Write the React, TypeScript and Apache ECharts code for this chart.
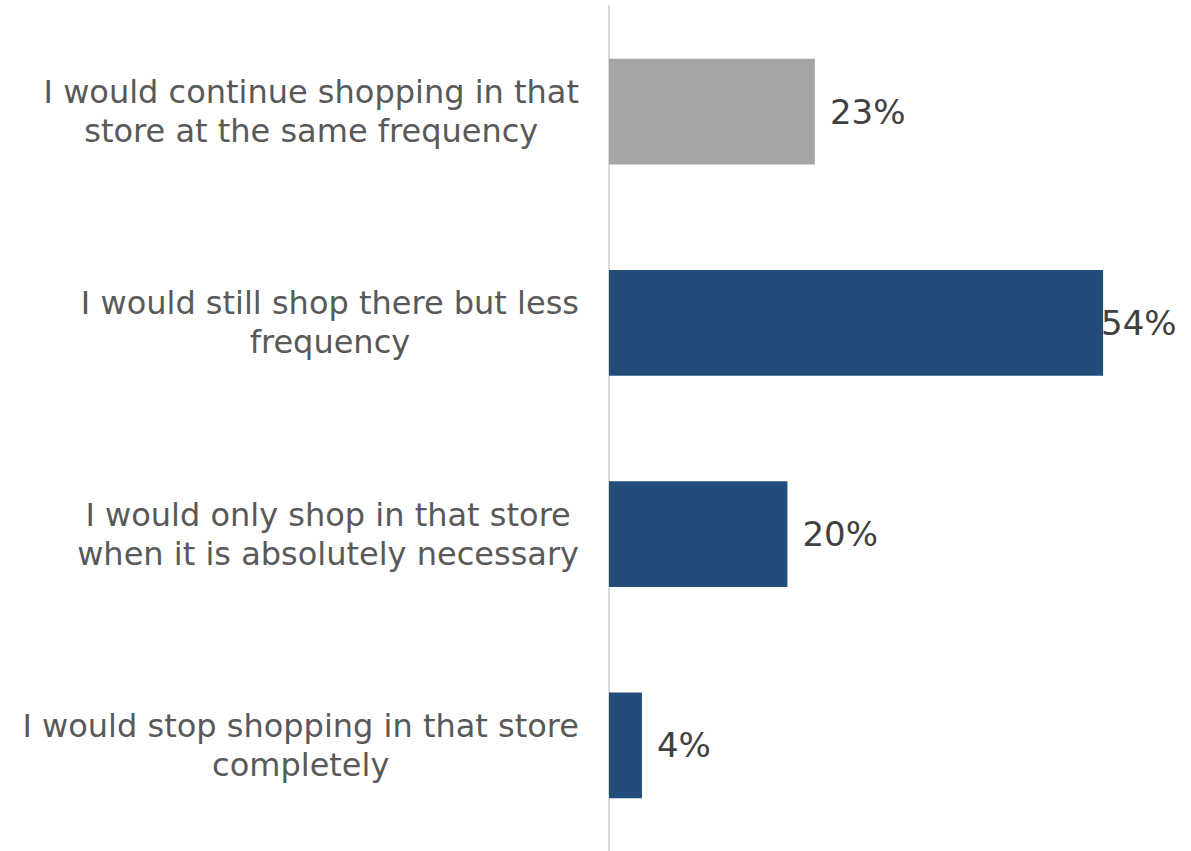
import React, { useEffect, useRef } from "react";
import * as echarts from "echarts";

const categories = [
  "I would continue shopping in that\nstore at the same frequency",
  "I would still shop there but less\nfrequency",
  "I would only shop in that store\nwhen it is absolutely necessary",
  "I would stop shopping in that store\ncompletely",
];
const values = [0.225, 0.54, 0.195, 0.036];
const barColors = ["#A5A5A5", "#244C78", "#244C78", "#244C78"];

export default function App() {
  const ref = useRef<HTMLDivElement>(null);
  useEffect(() => {
    if (!ref.current) return;
    const chart = echarts.init(ref.current, undefined, { renderer: "svg" });
    const font = "'DejaVu Sans', 'Noto Sans', sans-serif";
    chart.setOption({
      animation: false,
      grid: { left: 609, right: 33, top: 6, bottom: -4, containLabel: false },
      xAxis: {
        type: "value",
        min: 0,
        max: 0.6,
        show: false,
      },
      yAxis: {
        type: "category",
        data: categories,
        inverse: true,
        axisLine: { show: true, lineStyle: { color: "#D9D9D9", width: 2 } },
        axisTick: { show: false },
        axisLabel: {
          align: "right",
          margin: 30,
          formatter: (v: string) =>
            v
              .split("\n")
              .map((l) => "{c|" + l + "}")
              .join("\n"),
          rich: {
            c: {
              align: "center",
              color: "#595959",
              fontFamily: font,
              fontSize: 32,
              lineHeight: 39,
            },
          },
        },
      },
      series: [
        {
          type: "bar",
          barCategoryGap: "50%",
          data: values.map((v, i) => ({
            value: v,
            itemStyle: { color: barColors[i] },
            label: i === 1 ? { distance: -2 } : undefined,
          })),
          label: {
            show: true,
            position: "right",
            distance: 15,
            color: "#404040",
            fontFamily: font,
            fontSize: 34,
            formatter: (p: any) => Math.round(p.value * 100) + "%",
          },
        },
      ],
    });
    return () => chart.dispose();
  }, []);
  return (
    <div
      ref={ref}
      style={{ position: "absolute", left: 0, top: 0, width: 1191, height: 851, background: "#fff" }}
    />
  );
}
